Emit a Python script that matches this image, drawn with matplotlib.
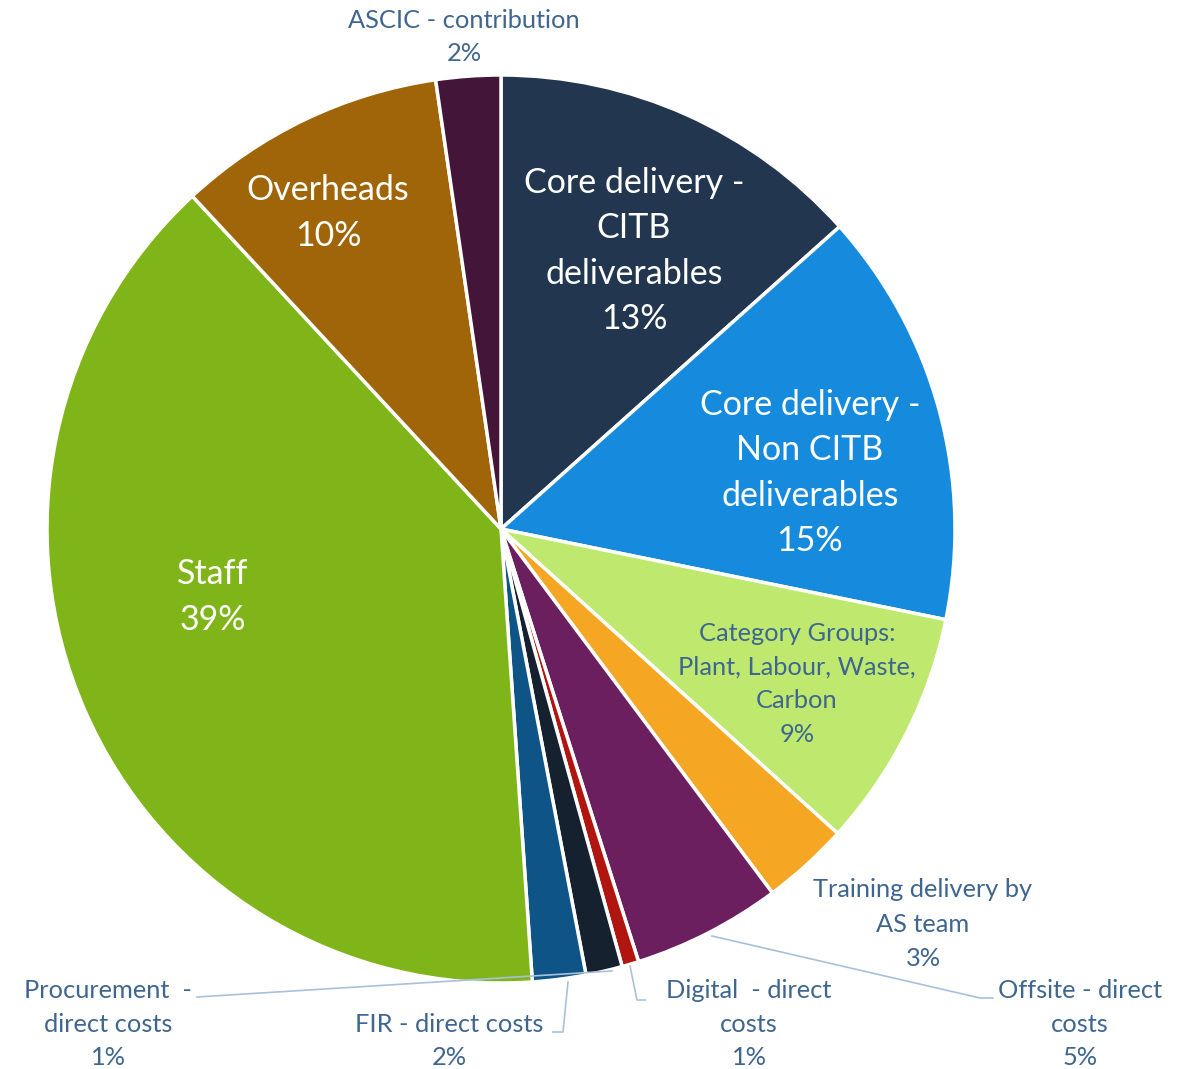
import matplotlib.pyplot as plt

plt.rcParams["font.family"] = ["Lato", "DejaVu Sans"]

categories = [
    "Core delivery -\nCITB\ndeliverables",
    "Core delivery -\nNon CITB\ndeliverables",
    "Category Groups:\nPlant, Labour, Waste,\nCarbon",
    "Training delivery by\nAS team",
    "Offsite - direct\ncosts",
    "Digital  - direct\ncosts",
    "Procurement  -\ndirect costs",
    "FIR - direct costs",
    "Staff",
    "Overheads",
    "ASCIC - contribution",
]
values = [13.4, 14.8, 8.5, 3.1, 5.3, 0.6, 1.3, 1.9, 39.2, 9.6, 2.3]
colors = ["#22374F", "#168ADD", "#BEE96E", "#F5A623", "#6B1F5E", "#B01510",
          "#16212F", "#0F5486", "#80B51A", "#A06508", "#431538"]

W, H = 1180, 1069
fig = plt.figure(figsize=(W / 100, H / 100), dpi=100)
ax = fig.add_axes([0, 0, 1, 1])

cx, cy, r = 501, H - 529, 454
ax.pie(values, colors=colors, startangle=90, counterclock=False,
       center=(cx, cy), radius=r, frame=True,
       wedgeprops=dict(edgecolor="white", linewidth=2.5))
ax.set_xlim(0, W)
ax.set_ylim(0, H)
ax.set_aspect("equal")
ax.axis("off")

# label positions in pixels (x, y from top), size, colour, line spacing
blue = "#3F6690"
label_style = [
    (634, 251, 24.5, "white", 1.52),
    (810, 473, 24.5, "white", 1.52),
    (797, 684, 18.3, blue, 1.55),
    (923, 924, 18.3, blue, 1.6),
    (1080, 1024, 18.3, blue, 1.55),
    (749, 1024, 18.3, blue, 1.55),
    (108, 1024, 18.3, blue, 1.55),
    (449, 1041, 18.3, blue, 1.55),
    (213, 597, 24.5, "white", 1.52),
    (328, 213, 24.5, "white", 1.52),
    (464, 37, 18.3, blue, 1.55),
]
for name, v, (x, y, fs, c, ls) in zip(categories, values, label_style):
    ax.text(x, H - y, f"{name}\n{int(v + 0.5)}%", ha="center", va="center",
            fontsize=fs, color=c, linespacing=ls)

lc = "#A9C0DC"
leaders = [
    [(197, 997), (612, 971)],
    [(553, 1032), (563, 1032), (568, 982)],
    [(645, 1000), (637, 1000), (630, 966)],
    [(993, 998), (980, 998), (712, 936)],
]
for pts in leaders:
    ax.plot([p[0] for p in pts], [H - p[1] for p in pts], color=lc, lw=1.2)

fig.savefig("out.png", dpi=100)
